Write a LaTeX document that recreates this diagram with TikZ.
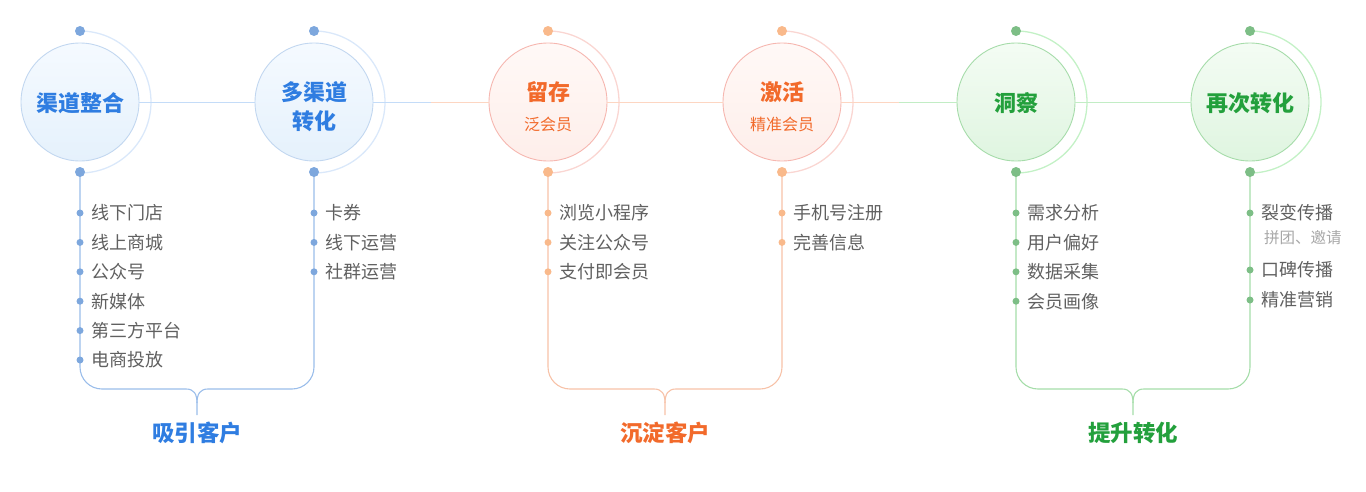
\documentclass[tikz,border=0pt]{standalone}
\usepackage{fontspec}
\setmainfont{Noto Sans CJK SC}
\usetikzlibrary{positioning,calc}

\definecolor{bltxt}{HTML}{2F7DE1}
\definecolor{blring}{HTML}{C2D7F0}
\definecolor{bltop}{HTML}{F5FAFF}
\definecolor{blbot}{HTML}{E5F1FC}
\definecolor{blarc}{HTML}{DAE8FA}
\definecolor{bldot}{HTML}{7DA7DD}
\definecolor{blline}{HTML}{9ABDEA}
\definecolor{blhair}{HTML}{C4DCF8}

\definecolor{ortxt}{HTML}{F26A2B}
\definecolor{orring}{HTML}{F6B7B0}
\definecolor{ortop}{HTML}{FFF9F7}
\definecolor{orbot}{HTML}{FEEEEA}
\definecolor{orarc}{HTML}{FAD6D2}
\definecolor{ordot}{HTML}{F9B98B}
\definecolor{orline}{HTML}{F7C2A8}
\definecolor{orhair}{HTML}{FDD6C2}

\definecolor{grtxt}{HTML}{23A03C}
\definecolor{grring}{HTML}{A6DCAA}
\definecolor{grtop}{HTML}{F4FCF4}
\definecolor{grbot}{HTML}{DFF5E0}
\definecolor{grarc}{HTML}{C3F1C6}
\definecolor{grdot}{HTML}{7DBE86}
\definecolor{grline}{HTML}{A5DDA9}
\definecolor{grhair}{HTML}{C2EDC5}

\definecolor{itemgray}{HTML}{606060}
\definecolor{notegray}{HTML}{A8A8A8}

\newcommand\subtxt{\mdseries\fontsize{16}{19}\selectfont}

\tikzset{
  hub/.style={circle, draw=#1ring, line width=0.9pt, minimum size=118pt, inner sep=0pt,
    top color=#1top, bottom color=#1bot},
  title/.style={text=#1txt, align=center, inner sep=0pt,
    font=\bfseries\fontsize{22}{29}\selectfont},
  halo/.style={draw=#1arc, line width=1.3pt},
  knob/.style={circle, fill=#1dot, minimum size=10pt, inner sep=0pt},
  bul/.style={circle, fill=#1dot, minimum size=7pt, inner sep=0pt},
  hair/.style={draw=#1hair, line width=0.9pt},
  stem/.style={draw=#1line, line width=1.1pt},
  item/.style={text=itemgray, font=\fontsize{18}{21}\selectfont, inner sep=0pt},
  note/.style={text=notegray, font=\fontsize{15.5}{18}\selectfont, inner sep=0pt},
  grp/.style={text=#1txt, font=\bfseries\fontsize{22.5}{26}\selectfont, inner sep=0pt},
}

\begin{document}
\begin{tikzpicture}[x=1pt, y=-1pt]
\useasboundingbox (0,0) rectangle (1366,491);

% the six stages
\foreach \nm/\xx/\cl/\sh/\tx in {h1/80/bl/1/渠道整合, h2/314/bl/5/{多渠道\\转化},
    h3/548/or/5/{留存\\[1pt]\subtxt 泛会员}, h4/782/or/5/{激活\\[1pt]\subtxt 精准会员},
    h5/1016/gr/1/洞察, h6/1250/gr/1/再次转化}
{
  \node[hub=\cl] (\nm) at (\xx,102) {};
  \node[title=\cl] (\nm-txt) at ($(\nm)+(0,\sh)$) {\tx};
  \coordinate (\nm-t) at (\xx,31);
  \coordinate (\nm-b) at (\xx,172);
  \draw[halo=\cl] (\nm-t) arc (-90:90:71);
}

\coordinate (m23) at ($(h2)!.5!(h3)$);
\coordinate (m45) at ($(h4)!.5!(h5)$);
\path (h1)  edge[hair=bl] (h2)
      (h2)  edge[hair=bl] (m23)
      (m23) edge[hair=or] (h3)
      (h3)  edge[hair=or] (h4)
      (h4)  edge[hair=or] (m45)
      (m45) edge[hair=gr] (h5)
      (h5)  edge[hair=gr] (h6);

% braces and group labels
\foreach \pa/\pb/\cl/\nm/\tx in {h1/h2/bl/A/吸引客户, h3/h4/or/B/沉淀客户, h5/h6/gr/C/提升转化}
{
  \coordinate (tip\nm) at ($(\pa-b)!.5!(\pb-b)+(0,243)$);
  \draw[stem=\cl] (\pa-b) -- ($(\pa-b)+(0,195)$) arc (180:90:22)
     -- ($(tip\nm)+(-11,-26)$)
     .. controls +(8,0) and +(0,-9) .. ($(tip\nm)+(0,-12)$) -- (tip\nm);
  \draw[stem=\cl] (\pb-b) -- ($(\pb-b)+(0,195)$) arc (0:90:22)
     -- ($(tip\nm)+(11,-26)$)
     .. controls +(-8,0) and +(0,-9) .. ($(tip\nm)+(0,-12)$);
  \node[grp=\cl, below=7pt of tip\nm] (lbl\nm) {\tx};
}

\foreach \nm/\cl in {h1/bl, h2/bl, h3/or, h4/or, h5/gr, h6/gr}
{
  \node[knob=\cl] (\nm-tk) at (\nm-t) {};
  \node[knob=\cl] (\nm-bk) at (\nm-b) {};
}

% item lists
\foreach \xx/\cl/\lst in {80/bl/{线下门店,线上商城,公众号,新媒体,第三方平台,电商投放},
    314/bl/{卡券,线下运营,社群运营}, 548/or/{浏览小程序,关注公众号,支付即会员},
    782/or/{手机号注册,完善信息}, 1016/gr/{需求分析,用户偏好,数据采集,会员画像}}
  \foreach \tx [count=\i] in \lst
  {
    \node[bul=\cl] (b\xx-\i) at (\xx,{183.6+29.4*\i}) {};
    \node[item, right=8pt of b\xx-\i] (i\xx-\i) {\tx};
  }

\foreach \tx/\yy [count=\i] in {裂变传播/213, 口碑传播/270, 精准营销/300}
{
  \node[bul=gr] (b1250-\i) at (1250,\yy) {};
  \node[item, right=8pt of b1250-\i] (i1250-\i) {\tx};
}
\node[note, anchor=west] (n1250) at (1264,238) {拼团、邀请};
\end{tikzpicture}
\end{document}
